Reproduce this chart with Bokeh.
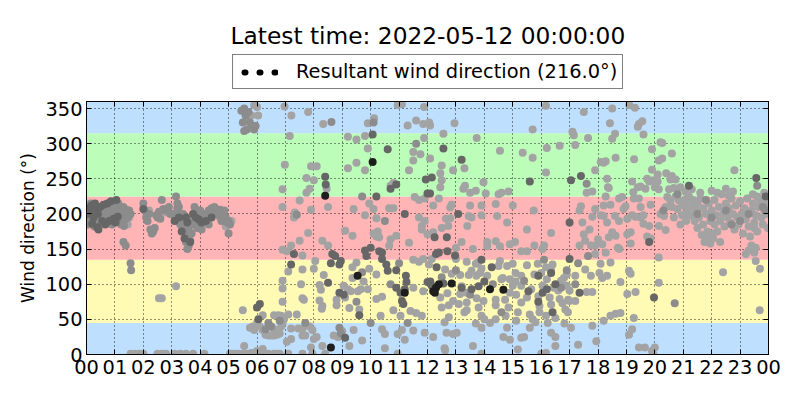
from bokeh.plotting import figure
from bokeh.models import (Range1d, FixedTicker, LinearAxis, BoxAnnotation, Grid,
                          Legend, LegendItem, Label)
from bokeh.layouts import column
from bokeh.core.properties import value
from bokeh.embed import file_html
from bokeh.resources import INLINE

title_text = "Latest time: 2022-05-12 00:00:00"
legend_text = "Resultant wind direction (216.0°)"
y_label = "Wind direction (°)"
x_ticks = list(range(0, 25))
x_tick_labels = ["00", "01", "02", "03", "04", "05", "06", "07", "08", "09", "10", "11",
                 "12", "13", "14", "15", "16", "17", "18", "19", "20", "21", "22", "23", "00"]
y_ticks = [0, 50, 100, 150, 200, 250, 300, 350]
band_lows = [0, 45, 135, 225, 315]
band_highs = [45, 135, 225, 315, 360]
band_colors = ["#bfdfff", "#fffbb4", "#ffb4b6", "#bbfdb9", "#bfdfff"]

# observations: (hour of day, wind direction in degrees), grouped by period and shade
p1_dark = [(0.02,200),(0.08,208),(0.12,203),(0.18,212),(0.2,186),
           (0.25,195),(0.3,215),(0.35,208),(0.38,181),(0.4,200),
           (0.42,178),(0.48,210),(0.55,190),(0.6,213),
           (0.66,185),(0.73,215),(0.8,190),(0.86,218),
           (0.95,193),(1.02,188),(1.05,220),(1.1,196),(2.0,207),
           (3.1,190),(3.25,195),(3.35,175),(3.45,165),
           (3.55,188),(3.65,160),(3.75,200),(3.85,195),
           (3.95,192),(4.05,188),(4.2,190),(4.4,195),
           (3.5,195),(6.0,67),(6.05,50)]
p1_mid = [(0.05,195),(0.1,190),(0.15,198),(0.22,205),(0.28,200),(0.32,190),(0.45,195),(0.5,205),
          (0.58,200),(0.63,196),(0.7,205),(0.76,198),(0.83,208),(0.9,200),(1.0,212),(1.08,205),
          (3.05,200),(3.2,208),(3.3,185),(3.4,180),(3.5,170),(3.6,178),(3.7,190),(3.8,185),
          (3.9,205),(4.0,183),(4.1,198),(4.3,185),(3.4,200),
          (0.05,185),(0.15,215),(0.28,182),(0.45,187),(0.6,192),(0.75,210),(0.9,185),(1.12,215),
          (1.15,200),(1.18,190),(1.2,208),(1.22,185),(1.25,198),(1.28,205),(1.3,210),(1.32,183),
          (1.35,192),(1.38,200),(1.4,206),(1.45,195),(1.5,205),(1.55,200),(1.3,160),(1.38,155),
          (1.55,130),(1.57,120),(2.0,215),(2.05,205),(2.1,195),(2.15,190),(2.2,200),(2.25,178),
          (2.3,172),(2.35,175),(2.4,180),(2.45,198),(2.5,195),(2.55,203),(2.65,220),(2.7,207),
          (2.75,205),(2.85,206),(2.9,210),(2.95,200),(2.6,193),(3.15,225),(3.2,215),(3.25,210),
          (3.3,200),(3.35,190),(3.45,175),(3.5,160),(3.55,150),(3.6,155),(3.65,162),(3.7,172),
          (3.8,210),(3.9,180),(4.0,205),(4.05,178),(4.15,200),(4.25,200),(4.3,205),(4.35,202),
          (4.4,208),(4.45,205),(4.5,210),(4.55,207),(4.6,203),(4.65,198),(4.7,206),(4.75,190),
          (4.8,200),(4.85,205),(4.9,195),(4.95,188),(5.0,190),(5.05,185),(5.0,172),(4.2,188),
          (5.45,347),(5.55,350),(5.6,340),(5.7,345),(5.75,330),(5.5,330),(5.55,318),(5.65,320),
          (5.85,325),(5.9,320),(5.95,325)]
p1_light = [(1.45,185),(1.5,195),(2.55,80),(2.65,80),(3.15,97),(2.2,205),(2.8,202),(4.7,195),
            (4.9,182),(5.1,190),(5.9,355),(6.0,352),(5.8,340),(5.7,335),(5.5,63),(5.85,40),
            (5.9,35),(5.75,38),(6.0,45),(6.1,40),(6.2,35),(6.3,28),(6.4,27),(6.5,27),(6.6,27),
            (6.7,28),(6.8,30),(6.85,40),(6.9,45),(6.95,50),(6.85,55),(6.6,36),(5.55,12),(6.2,8),
            (1.55,1),(1.7,1),(1.85,1),(2.0,1),(2.5,1),(2.65,1),(2.8,1),(3.1,1),(3.3,1),(3.5,1),
            (3.75,1),(4.15,1),(5.05,1),(5.2,1),(5.35,1),(5.5,1),(5.65,1),(5.8,2),(6.0,5),(6.1,3),
            (6.25,1),(6.4,1),(6.6,1),(6.8,1)]

p2_light = [(6.04,340),(6.97,353),(7.21,340),(7.8,345),(8.33,328),(7.15,311),(6.98,270),(7.9,268),
            (8.1,268),(7.74,251),(8.0,248),(6.9,235),(7.85,236),(7.74,230),(8.45,236),(7.5,219),
            (6.9,210),(7.33,202),(7.9,206),(8.5,210),(7.3,195),(7.8,173),(8.3,162),(8.5,155),
            (7.2,155),(6.9,149),(7.05,147),(7.5,162),(7.6,141),(8.05,133),(7.1,118),(7.6,121),
            (8.0,122),(8.35,113),(6.9,105),(7.55,100),(8.2,99),(6.9,94),(8.25,92),(9.05,98),
            (7.6,80),(7.65,78),(8.8,78),(8.2,77),(6.9,75),(8.3,69),(8.28,65),(8.8,70),(6.6,56),
            (6.75,56),(7.1,57),(7.4,57),(6.2,56),(7.2,37),(7.45,37),(7.6,37),(7.85,40),(7.95,35),
            (7.2,22),(7.6,27),(7.7,27),(8.1,25),(8.0,22),(8.7,27),(8.85,25),(9.0,33),(8.3,12),
            (7.05,18),(7.9,10),(6.7,1),(7.1,1),(7.6,1),(7.95,1),(8.4,1)]
p2_mid = [(8.62,331),(7.4,199),(6.5,40),(6.4,45),(6.3,36),(6.8,48),(7.7,45),(8.9,38),(8.95,30)]
p2_dark = [(8.4,253),(8.42,242),(7.3,143),(7.2,128),(8.5,102),(8.9,88),(9.05,85),(6.1,72),
           (8.6,130),(8.75,140),(8.9,128),(8.65,143),(8.95,133)]
p2_black = [(8.4,226),(8.6,10)]

p3_light = [(10.95,355),(11.88,352),(9.9,329),(10.12,336),(11.3,326),(11.6,333),(11.85,328),
            (12.06,330),(9.2,310),(9.5,306),(9.8,311),(9.9,293),(11.5,288),(11.75,285),(11.88,308),
            (9.2,265),(9.8,262),(9.5,273),(11.5,276),(11.35,262),(10.7,240),(10.8,244),(11.55,224),
            (11.7,220),(11.9,222),(9.4,207),(9.95,215),(10.1,207),(10.65,208),(10.8,208),(11.7,195),
            (11.9,190),(11.8,183),(9.8,198),(10.2,194),(9.1,176),(9.36,169),(10.1,172),(10.2,168),
            (10.3,167),(10.25,175),(10.7,164),(10.9,169),(11.35,159),(11.8,178),(12.0,171),
            (10.65,155),(9.5,131),(9.36,124),(9.95,122),(11.5,135),(11.7,132),(11.85,136),
            (12.05,128),(9.36,109),(9.75,104),(10.2,114),(9.2,93),(9.3,90),(9.55,90),(9.65,93),
            (9.9,93),(11.5,95),(11.85,90),(9.1,81),(10.2,79),(10.4,82),(9.25,66),(9.6,64),(10.8,63),
            (11.4,62),(11.6,59),(11.8,55),(10.35,55),(11.05,55),(9.4,35),(10.4,36),(11.1,35),
            (10.5,29),(10.95,29),(11.5,34),(11.9,31),(9.7,20),(11.2,21),(10.5,9),(9.25,12),
            (10.95,1),(11.1,356)]
p3_mid = [(10.1,330),(11.6,300),(9.7,225),(10.5,190),(11.0,130),(10.7,100),(9.5,75),(11.3,45),
          (10.0,45),(9.7,117)]
p3_dark = [(10.07,313),(10.6,292),(11.94,249),(10.7,236),(10.9,242),(12.0,229),(10.2,225),
           (11.2,200),(10.0,152),(9.8,148),(9.85,140),(10.3,147),(10.4,145),(10.4,136),(10.55,128),
           (10.6,119),(10.9,120),(11.24,112),(11.26,103),(12.0,103),(10.9,95),(11.05,88),(11.2,93),
           (11.1,76),(11.15,72),(9.6,56),(9.1,24)]
p3_black = [(9.54,112),(11.2,88),(10.07,274)]

p4_light = [(12.95,329),(12.09,326),(12.56,314),(13.73,308),(14.55,290),(12.09,279),(12.45,258),
            (12.9,262),(12.5,269),(13.3,265),(12.5,248),(12.45,238),(13.26,236),(13.32,240),
            (13.97,245),(14.5,228),(14.6,230),(14.85,232),(13.5,230),(13.7,233),(14.05,229),
            (12.4,222),(12.2,212),(12.8,209),(12.85,213),(13.5,212),(13.9,212),(14.4,214),(15.0,212),
            (13.45,197),(13.55,195),(13.9,198),(14.45,197),(12.65,193),(12.8,194),(12.5,180),
            (12.2,174),(12.73,183),(13.4,183),(14.8,188),(13.2,160),(14.1,160),(14.4,161),(14.9,157),
            (13.0,152),(13.6,150),(14.1,154),(14.55,154),(12.15,136),(13.0,136),(13.38,132),
            (13.7,129),(13.78,131),(13.9,122),(14.5,126),(14.55,133),(14.8,126),(15.0,129),
            (12.62,121),(12.85,115),(13.15,113),(13.45,113),(13.55,119),(13.72,112),(13.85,116),
            (14.1,112),(14.6,107),(14.65,109),(14.9,107),(15.1,104),(13.2,97),(12.7,87),(13.15,86),
            (13.38,88),(14.9,88),(15.0,98),(12.45,81),(12.9,76),(13.73,80),(13.97,76),(14.4,78),
            (14.73,78),(12.75,70),(13.1,72),(13.38,74),(13.8,67),(14.85,67),(12.5,67),(14.4,70),
            (12.75,53),(13.3,60),(13.9,55),(14.0,50),(14.75,55),(13.38,63),(14.4,50),(12.6,46),
            (13.7,44),(14.2,45),(13.9,38),(14.8,38),(13.03,31),(12.9,29),(12.67,31),(12.2,25),
            (13.6,12),(12.6,9),(12.62,6),(14.67,25),(14.9,21),(13.9,1)]
p4_mid = [(12.5,110),(13.0,120),(14.3,100),(13.5,85),(14.6,60)]
p4_dark = [(12.56,293),(13.2,277),(12.15,252),(12.09,229),(13.08,200),(12.25,167),(12.68,167),
           (12.3,143),(12.4,145),(12.7,147),(12.97,141),(14.26,124),(12.32,124),(12.56,101),
           (13.2,95),(13.55,93),(13.8,97),(12.1,104),(12.15,98),(14.0,104),(13.9,135)]
p4_black = [(12.2,90),(12.3,95),(12.85,101),(14.2,93),(14.67,92),(12.26,88),(12.4,100)]

p5_light = [(16.17,354),(17.5,345),(15.7,320),(17.1,317),(17.15,312),(17.65,308),(16.2,294),
            (16.65,297),(17.2,298),(15.35,287),(15.7,280),(17.9,262),(18.1,274),(16.17,259),
            (17.6,230),(17.8,232),(15.74,205),(17.4,211),(17.35,205),(17.9,207),(18.1,198),
            (17.8,196),(15.5,178),(16.35,173),(17.45,188),(17.7,178),(17.5,171),(17.55,162),
            (17.35,155),(17.9,155),(18.0,164),(17.75,155),(15.08,160),(15.76,155),(16.1,155),
            (16.05,150),(17.9,143),(15.3,147),(15.5,147),(15.5,127),(15.88,129),(16.17,124),
            (16.35,119),(16.4,128),(17.2,112),(17.55,121),(17.75,112),(18.05,116),(15.1,116),
            (15.3,112),(15.76,114),(16.0,116),(16.2,107),(16.7,105),(16.8,109),(16.9,114),(15.3,98),
            (15.65,93),(16.05,98),(16.45,95),(16.6,91),(16.9,98),(17.0,91),(17.6,89),(17.8,89),
            (15.12,85),(15.5,81),(15.9,83),(16.3,81),(16.65,79),(17.0,76),(15.3,74),(15.94,69),
            (16.35,71),(16.75,73),(16.85,64),(17.2,76),(16.95,78),(15.18,60),(15.6,57),(15.94,60),
            (16.17,55),(16.5,52),(16.94,60),(15.12,48),(15.7,50),(15.8,46),(16.23,45),(16.82,44),
            (17.05,38),(17.8,41),(15.6,38),(15.3,24),(15.4,25),(16.35,31),(16.5,25),(16.5,12),
            (15.18,7),(16.17,2),(17.94,19),(17.3,14),(16.0,1)]
p5_mid = [(17.6,243),(16.1,135),(16.7,95),(17.2,100),(15.4,105),(16.9,120),(17.3,130),(17.65,140)]
p5_dark = [(15.6,246),(17.4,254),(17.05,248),(17.0,188),(17.0,136),(17.35,88),(16.35,116),
           (15.55,90),(16.05,88),(16.5,100),(16.2,93),(15.9,112),(16.4,60),(15.9,75)]

p6_light = [(18.5,350),(19.1,355),(19.3,351),(19.44,328),(19.56,332),(19.4,324),(18.42,329),
            (19.6,313),(18.6,314),(20.2,302),(20.26,301),(18.5,307),(19.9,292),(20.6,286),
            (18.62,280),(19.27,278),(18.2,273),(18.27,275),(20.14,276),(20.26,279),(19.9,263),
            (20.1,256),(20.4,258),(20.6,254),(20.73,249),(20.55,249),(19.73,250),(19.8,246),
            (19.95,248),(20.1,246),(18.32,250),(19.2,246),(19.5,239),(19.67,236),(19.24,231),
            (19.4,238),(18.35,238),(18.38,237),(20.0,238),(20.14,235),(20.5,235),(20.67,237),
            (20.9,238),(21.08,232),(20.73,225),(20.44,224),(20.55,219),(20.85,219),(20.96,214),
            (21.08,221),(20.38,210),(20.6,210),(20.8,207),(21.02,212),(20.2,200),(21.08,200),
            (18.27,225),(18.74,222),(18.85,224),(19.26,222),(19.44,222),(19.5,210),(19.85,213),
            (18.2,212),(18.44,213),(18.9,207),(18.97,211),(20.32,197),(20.96,198),(20.67,195),
            (18.2,197),(18.6,197),(19.2,198),(19.6,198),(19.5,195),(19.32,196),(18.32,188),
            (18.74,190),(19.03,193),(19.6,186),(19.8,183),(20.14,183),(20.38,177),(20.9,185),
            (18.5,174),(18.62,169),(18.38,167),(19.03,171),(19.15,174),(19.73,168),(19.85,165),
            (19.15,158),(18.15,157),(18.27,145),(18.7,152),(18.75,150),(20.14,138),(18.44,131),
            (18.09,129),(19.09,119),(19.15,115),(18.32,112),(18.15,109),(18.79,103),(20.14,102),
            (19.32,89),(19.03,86),(18.79,59),(18.62,58),(18.44,55),(18.2,48),(19.26,52),(19.2,36),
            (19.09,28),(19.44,10),(19.65,10),(20.0,10),(19.9,5),(19.95,0)]
p6_mid = [(20.7,73),(20.3,205),(20.8,228)]
p6_dark = [(19.8,160),(19.97,81)]

p7_light = [(21.1,215),(21.15,205),(21.2,225),(21.25,198),(21.3,210),(21.35,220),(21.4,190),
            (21.45,205),(21.5,215),(21.5,180),(21.55,195),(21.6,222),(21.65,170),(21.7,208),
            (21.7,185),(21.75,160),(21.8,200),(21.85,175),(21.9,215),(21.95,190),(22.0,205),
            (22.05,165),(22.1,220),(22.1,185),(22.15,198),(22.2,175),(22.25,210),(22.3,190),
            (22.35,228),(22.4,200),(22.45,182),(22.5,215),(22.55,195),(22.6,208),(22.65,188),
            (22.7,222),(22.75,200),(22.8,178),(22.85,212),(22.9,195),(22.95,185),(23.0,218),
            (23.05,200),(23.1,172),(23.15,208),(23.2,192),(23.25,222),(23.3,182),(23.35,168),
            (23.4,205),(23.45,215),(23.5,188),(23.55,198),(23.6,175),(23.65,210),(23.7,220),
            (23.75,195),(23.8,185),(23.85,205),(23.9,215),(23.95,200),(23.98,180),(21.9,168),
            (21.8,165),(21.95,158),(22.05,172),(22.2,230),(22.5,236),(22.75,232),(22.6,226),
            (23.45,228),(23.6,225),(23.85,230),(22.8,262),(23.2,143),(23.3,148),(23.5,145),
            (23.55,152),(23.4,155),(23.55,133),(23.7,122),(22.4,117),(23.69,63),(21.3,235),
            (21.6,230),(22.0,233),(23.95,225),(23.5,180),(22.3,160),(21.1,190)]
p7_mid = [(21.5,200),(22.0,195),(22.5,205),(23.0,190),(23.3,200),(23.8,210),(21.8,220),(22.7,185),
          (23.6,240),(23.9,205)]
p7_dark = [(23.57,251),(23.9,225),(21.2,240)]

shade_colors = {"light": "#a3a3a3", "mid": "#8c8c8c", "dark": "#666666", "black": "#1e1e1e"}
series = [
    ("light", p1_light + p2_light + p3_light + p4_light + p5_light + p6_light + p7_light),
    ("mid", p1_mid + p2_mid + p3_mid + p4_mid + p5_mid + p6_mid + p7_mid),
    ("dark", p1_dark + p2_dark + p3_dark + p4_dark + p5_dark + p6_dark + p7_dark),
    ("black", p2_black + p3_black + p4_black),
]

FONT = "DejaVu Sans"

# ---- header strip: title and legend (frame aligned with the chart's frame: x 86..768) ----
head = figure(width=800, height=95, x_range=Range1d(86, 768), y_range=Range1d(95, 0),
              output_backend="svg", toolbar_location=None,
              min_border_left=0, min_border_right=0, min_border_top=0, min_border_bottom=0,
              background_fill_color="white", border_fill_color="white")
head.axis.visible = False
head.grid.visible = False
head.outline_line_color = None

head.add_layout(Label(x=427.4, y=35, text=title_text, text_align="center",
                      text_baseline="alphabetic", text_font=FONT, text_font_size="23.3px",
                      text_color="black"))

leg_r = head.line(x=[-200, -100], y=[-50, -50], line_color="black", line_width=6,
                  line_cap="round", line_dash="1 14", line_dash_offset=-6)
legend = Legend(items=[LegendItem(label=value(legend_text), renderers=[leg_r])],
                location=(146, 6), border_line_color="black", border_line_width=1,
                background_fill_color="white", background_fill_alpha=1.0,
                padding=5, margin=0, spacing=0, glyph_width=40, glyph_height=20,
                label_standoff=18, label_text_font=FONT, label_text_font_size="19.4px",
                label_text_color="black", label_text_baseline="middle")
head.add_layout(legend)

# ---- main chart ----
p = figure(width=800, height=305, x_range=Range1d(0, 24), y_range=Range1d(0, 360),
           output_backend="svg", toolbar_location=None,
           min_border_left=86, min_border_right=32, min_border_top=6, min_border_bottom=46,
           background_fill_color="white", border_fill_color="white")
p.outline_line_color = "black"
p.outline_line_width = 1

for lo, hi, c in zip(band_lows, band_highs, band_colors):
    p.add_layout(BoxAnnotation(bottom=lo, top=hi, fill_color=c, fill_alpha=1.0,
                               line_color=None, level="underlay"))

p.xgrid.visible = False
p.ygrid.visible = False
p.add_layout(Grid(dimension=0, ticker=FixedTicker(ticks=x_ticks), grid_line_color="black",
                  grid_line_dash="1 3", grid_line_width=1, grid_line_alpha=0.85))
p.add_layout(Grid(dimension=1, ticker=FixedTicker(ticks=y_ticks), grid_line_color="black",
                  grid_line_dash="1 3", grid_line_width=1, grid_line_alpha=0.85))

for name, pts in series:
    hrs = [h for h, d in pts]
    dirs = [d for h, d in pts]
    p.scatter(x=hrs, y=dirs, size=8, fill_color=shade_colors[name], line_color=None)

xa = p.xaxis[0]
ya = p.yaxis[0]
xa.ticker = FixedTicker(ticks=x_ticks)
xa.major_label_overrides = {t: lab for t, lab in zip(x_ticks, x_tick_labels)}
ya.ticker = FixedTicker(ticks=y_ticks)
for ax in (xa, ya):
    ax.major_tick_in = 5
    ax.major_tick_out = 0
    ax.minor_tick_in = 0
    ax.minor_tick_out = 0
    ax.axis_line_color = "black"
    ax.major_tick_line_color = "black"
    ax.major_label_text_font = FONT
    ax.major_label_text_font_size = "19.4px"
    ax.major_label_text_color = "black"
xa.major_label_standoff = 5
ya.major_label_standoff = 4
ya.axis_label = y_label
ya.axis_label_text_font = FONT
ya.axis_label_text_font_size = "17px"
ya.axis_label_text_font_style = "normal"
ya.axis_label_text_color = "black"
ya.axis_label_standoff = 4

ra = LinearAxis(ticker=FixedTicker(ticks=y_ticks),
                major_label_overrides={t: "" for t in y_ticks},
                major_label_text_font_size="1px",
                major_tick_in=5, major_tick_out=0, minor_tick_in=0, minor_tick_out=0,
                major_label_standoff=0, axis_line_color="black")
p.add_layout(ra, "right")
ta = LinearAxis(ticker=FixedTicker(ticks=x_ticks),
                major_label_overrides={t: "" for t in x_ticks},
                major_label_text_font_size="1px",
                major_tick_in=5, major_tick_out=0, minor_tick_in=0, minor_tick_out=0,
                major_label_standoff=0, axis_line_color="black")
p.add_layout(ta, "above")

layout = column(head, p, spacing=0)
open("out.html", "w").write(file_html(layout, INLINE))
